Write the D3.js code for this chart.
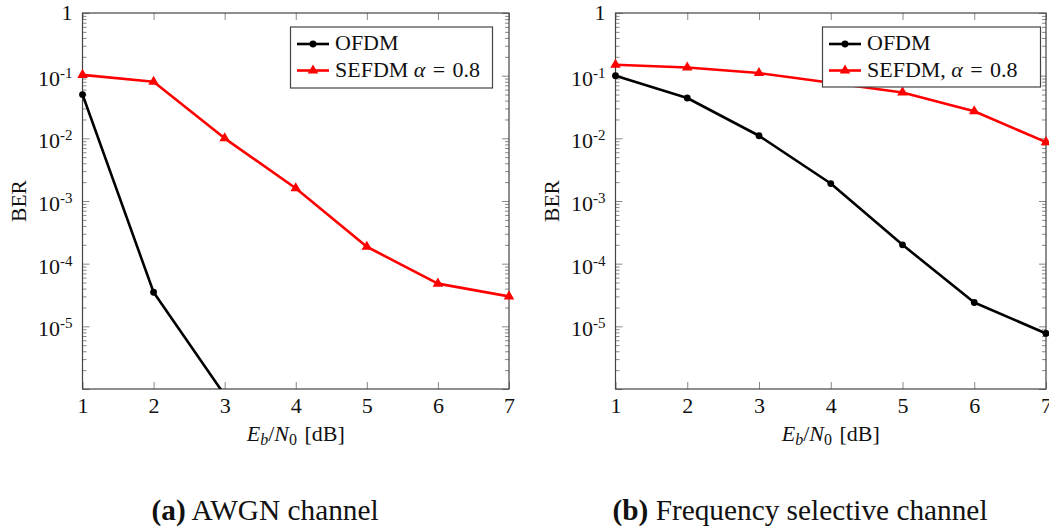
<!DOCTYPE html>
<html>
<head>
<meta charset="utf-8">
<script src="https://cdn.jsdelivr.net/npm/d3@7"></script>
<style>
body { margin: 0; background: #fff; }
svg, svg text { font-family: "Liberation Serif", Tinos, "Times New Roman", Times, "DejaVu Serif", serif; }
text { fill: #111; }
</style>
</head>
<body>
<script>
// Eb/N0 values (dB) on the x axis
var ebno = [1, 2, 3, 4, 5, 6, 7];
var xTicks = [1, 2, 3, 4, 5, 6, 7];

// labelled decades on the y axis (exponents of 10)
var yDecades = [0, -1, -2, -3, -4, -5];

// (a) AWGN channel
var awgnOfdm = [0.05, 3.5e-5, 8e-7];
var awgnSefdm = [0.103, 0.08, 0.01, 1.6e-3, 1.86e-4, 4.8e-5, 3.0e-5];

// (b) frequency selective channel
var fsOfdm = [0.1, 0.044, 0.011, 1.9e-3, 2.0e-4, 2.4e-5, 7.7e-6];
var fsSefdm = [0.149, 0.135, 0.11, 0.077, 0.054, 0.027, 0.0087];

var legendNames = ["OFDM", "SEFDM"];
var captions = [["(a)", " AWGN channel"], ["(b)", " Frequency selective channel"]];

var serif = "'Liberation Serif', Tinos, 'Times New Roman', Times, 'DejaVu Serif', serif";

var width = 1049;
var height = 532;

var svg = d3.select("body")
    .append("svg")
    .attr("width", width)
    .attr("height", height)
    .attr("font-family", serif);

drawPanel({
    id: "a", left: 82.5, right: 509, top: 13, bottom: 389,
    ofdm: awgnOfdm, sefdm: awgnSefdm, comma: false,
    legend: {x: 290.5, y: 27, w: 202, h: 61},
    caption: captions[0], captionX: 151.5
});

drawPanel({
    id: "b", left: 615.5, right: 1046, top: 13, bottom: 389,
    ofdm: fsOfdm, sefdm: fsSefdm, comma: true,
    legend: {x: 822.5, y: 27, w: 218, h: 60},
    caption: captions[1], captionX: 612.5
});

function drawPanel(p) {
    var x = d3.scaleLinear().domain([1, 7]).range([p.left, p.right]);
    var y = d3.scaleLog().domain([1e-6, 1]).range([p.bottom, p.top]);

    var majors = d3.range(-6, 1).map(function(e) { return Math.pow(10, e); });
    var minors = [];
    for (var e = -6; e < 0; e++) {
        for (var m = 2; m <= 9; m++) minors.push(m * Math.pow(10, e));
    }

    var g = svg.append("g");

    // clip the lines to the plot area
    g.append("clipPath").attr("id", "clip-" + p.id)
        .append("rect")
        .attr("x", p.left).attr("y", p.top)
        .attr("width", p.right - p.left).attr("height", p.bottom - p.top);

    // ticks (all pointing inwards)
    function tickAxis(axis, tx, ty) {
        var a = g.append("g")
            .attr("transform", "translate(" + tx + "," + ty + ")")
            .call(axis);
        a.select(".domain").remove();
        a.attr("font-family", serif);
        a.selectAll(".tick line").attr("stroke", "#888").attr("stroke-width", 1);
        return a;
    }
    tickAxis(d3.axisLeft(y).tickValues(majors).tickSize(-7).tickFormat(""), p.left, 0);
    tickAxis(d3.axisLeft(y).tickValues(minors).tickSize(-4).tickFormat(""), p.left, 0);
    tickAxis(d3.axisRight(y).tickValues(majors).tickSize(-7).tickFormat(""), p.right, 0);
    tickAxis(d3.axisRight(y).tickValues(minors).tickSize(-4).tickFormat(""), p.right, 0);
    tickAxis(d3.axisTop(x).tickValues(xTicks).tickSize(-7).tickFormat(""), 0, p.top);
    var xa = tickAxis(d3.axisBottom(x).tickValues(xTicks).tickSize(-7).tickPadding(8)
        .tickFormat(d3.format("d")), 0, p.bottom);
    xa.attr("font-size", 22);
    xa.selectAll(".tick text").attr("fill", "#111");

    // frame
    g.append("rect")
        .attr("x", p.left).attr("y", p.top)
        .attr("width", p.right - p.left).attr("height", p.bottom - p.top)
        .attr("fill", "none").attr("stroke", "#444").attr("stroke-width", 1.2);

    // y tick labels: 1, 10^-1 ... 10^-5
    yDecades.forEach(function(e) {
        var v = Math.pow(10, e);
        var t = g.append("text")
            .attr("x", p.left - 10)
            .attr("text-anchor", "end")
            .attr("font-size", 22);
        if (e == 0) {
            t.attr("y", y(v) + 7).text("1");
        } else {
            t.attr("y", y(v) + 10);
            t.append("tspan").text("10");
            t.append("tspan").attr("font-size", 15).attr("dy", -8).text(String(e));
        }
    });

    // axis titles
    g.append("text")
        .attr("transform", "translate(" + (p.left - 57) + "," + ((p.top + p.bottom) / 2) + ") rotate(-90)")
        .attr("text-anchor", "middle")
        .attr("font-size", 21.5)
        .text("BER");

    var xl = g.append("text")
        .attr("x", (p.left + p.right) / 2)
        .attr("y", 441)
        .attr("text-anchor", "middle")
        .attr("font-size", 22);
    xl.append("tspan").attr("font-style", "italic").text("E");
    xl.append("tspan").attr("font-style", "italic").attr("font-size", 16).attr("dy", 4).text("b");
    xl.append("tspan").attr("dy", -4).text("/");
    xl.append("tspan").attr("font-style", "italic").text("N");
    xl.append("tspan").attr("font-size", 16).attr("dy", 4).text("0");
    xl.append("tspan").attr("dy", -4).text("\u2004[dB]");

    // series
    var line = d3.line()
        .x(function(d, i) { return x(ebno[i]); })
        .y(function(d) { return y(d); });

    var series = [
        {values: p.sefdm, color: "#ff0000", mark: "tri"},
        {values: p.ofdm, color: "#000000", mark: "dot"}
    ];

    series.forEach(function(s) {
        g.append("path")
            .attr("clip-path", "url(#clip-" + p.id + ")")
            .attr("d", line(s.values))
            .attr("fill", "none")
            .attr("stroke", s.color)
            .attr("stroke-width", 2.6)
            .attr("stroke-linejoin", "round");

        var pts = s.values.map(function(v, i) { return {x: ebno[i], v: v}; })
            .filter(function(d) { return d.v >= 1e-6; });
        drawMarks(g, pts.map(function(d) { return [x(d.x), y(d.v)]; }), s.mark, s.color);
    });

    // legend
    var L = p.legend;
    g.append("rect")
        .attr("x", L.x).attr("y", L.y).attr("width", L.w).attr("height", L.h)
        .attr("fill", "#fff").attr("stroke", "#444").attr("stroke-width", 1.2);

    var rows = [
        {y: L.y + 17, color: "#000", mark: "dot"},
        {y: L.y + 43.5, color: "#ff0000", mark: "tri"}
    ];
    rows.forEach(function(r, i) {
        g.append("line")
            .attr("x1", L.x + 6.5).attr("x2", L.x + 38.5)
            .attr("y1", r.y).attr("y2", r.y)
            .attr("stroke", r.color).attr("stroke-width", 2.6);
        drawMarks(g, [[L.x + 22.5, r.y]], r.mark, r.color);

        var t = g.append("text")
            .attr("x", L.x + 44.5)
            .attr("y", r.y + 6)
            .attr("font-size", 22);
        if (i == 0) {
            t.text(legendNames[0]);
        } else {
            t.append("tspan").text(legendNames[1] + (p.comma ? ", " : " "));
            t.append("tspan").attr("font-style", "italic").text("α");
            t.append("tspan").text("\u2004=\u20040.8");
        }
    });

    // caption
    var c = svg.append("text")
        .attr("x", p.captionX)
        .attr("y", 520)
        .attr("font-size", 29.3);
    c.append("tspan").attr("font-weight", "bold").text(p.caption[0]);
    c.append("tspan").text(p.caption[1]);
}

function drawMarks(g, points, mark, color) {
    if (mark == "dot") {
        g.selectAll(null).data(points).enter()
            .append("circle")
            .attr("cx", function(d) { return d[0]; })
            .attr("cy", function(d) { return d[1]; })
            .attr("r", 3.4)
            .attr("fill", color);
    } else {
        g.selectAll(null).data(points).enter()
            .append("path")
            .attr("d", d3.symbol(d3.symbolTriangle, 48))
            .attr("transform", function(d) { return "translate(" + d[0] + "," + d[1] + ")"; })
            .attr("fill", color);
    }
}
</script>
</body>
</html>
